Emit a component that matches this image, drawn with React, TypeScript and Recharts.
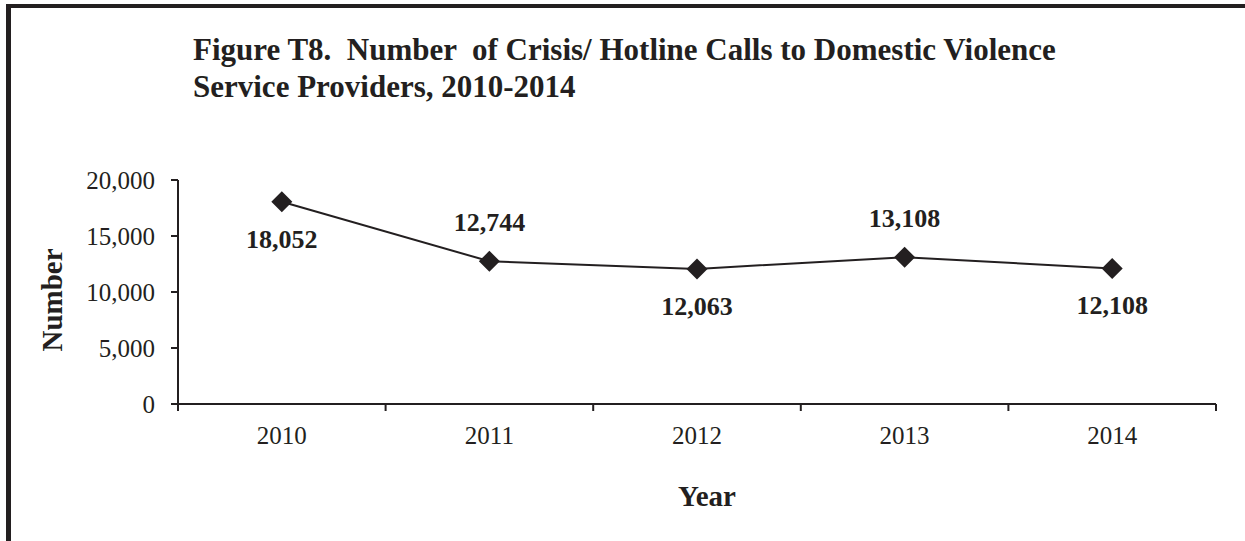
import { LineChart, Line, XAxis, YAxis, LabelList, Label } from "recharts";

const years = [2010, 2011, 2012, 2013, 2014];
const calls = [18052, 12744, 12063, 13108, 12108];
// where each value label sits relative to its marker
const labelSide = ["below", "above", "below", "above", "below"];
const yTicks = [0, 5000, 10000, 15000, 20000];
const yearEdges = [2009.5, 2010.5, 2011.5, 2012.5, 2013.5, 2014.5];

const data = years.map((year, i) => ({ year, calls: calls[i], side: labelSide[i] }));

const INK = "#231f20";
const SERIF = "'Liberation Serif', 'Times New Roman', serif";

function Diamond({ cx, cy }: { cx?: number; cy?: number }) {
  if (cx == null || cy == null) return null;
  const r = 10.5;
  return <polygon points={`${cx},${cy - r} ${cx + r},${cy} ${cx},${cy + r} ${cx - r},${cy}`} fill={INK} />;
}

function ValueLabel(props: any) {
  const { x, y, value, index } = props;
  const below = labelSide[index] === "below";
  return (
    <text
      x={x}
      y={below ? y + 46 : y - 30}
      textAnchor="middle"
      fontFamily={SERIF}
      fontWeight={700}
      fontSize={26}
      fill={INK}
    >
      {Number(value).toLocaleString("en-US")}
    </text>
  );
}

export default function App() {
  return (
    <div style={{ position: "absolute", left: 0, top: 0, width: 1245, height: 541, background: "#fff", fontFamily: SERIF, color: INK }}>
      <div style={{ position: "absolute", left: 6, top: 4, width: 1236, height: 560, borderTop: `4px solid ${INK}`, borderLeft: `5px solid ${INK}`, borderRight: `2px solid ${INK}` }} />
      <div style={{ position: "absolute", left: 193, top: 31, fontSize: 31, lineHeight: "37px", fontWeight: 700, whiteSpace: "pre" }}>
        {"Figure T8.  Number  of Crisis/ Hotline Calls to Domestic Violence\nService Providers, 2010-2014"}
      </div>
      <div style={{ position: "absolute", left: 0, top: 0 }}>
        <LineChart width={1245} height={541} data={data} margin={{ top: 180, right: 29, bottom: 96, left: 0 }}>
          <XAxis
            xAxisId="edges"
            type="number"
            dataKey="year"
            domain={[2009.5, 2014.5]}
            ticks={yearEdges}
            tickFormatter={() => ""}
            tickSize={7}
            height={1}
            axisLine={{ stroke: INK, strokeWidth: 2 }}
            tickLine={{ stroke: INK, strokeWidth: 2 }}
          />
          <XAxis
            xAxisId="labels"
            type="number"
            dataKey="year"
            domain={[2009.5, 2014.5]}
            ticks={years}
            axisLine={false}
            tickLine={false}
            tickSize={0}
            tickMargin={21}
            height={40}
            tick={{ fill: INK, fontSize: 25, fontFamily: SERIF }}
          >
            <Label value="Year" position="bottom" offset={40} dx={10} fill={INK} fontSize={29} fontWeight={700} fontFamily={SERIF} />
          </XAxis>
          <YAxis
            type="number"
            domain={[0, 20000]}
            ticks={yTicks}
            width={178}
            tickSize={7}
            tickMargin={16}
            tickFormatter={(v: number) => v.toLocaleString("en-US")}
            tick={{ fill: INK, fontSize: 25, fontFamily: SERIF }}
            axisLine={{ stroke: INK, strokeWidth: 2 }}
            tickLine={{ stroke: INK, strokeWidth: 2 }}
          >
            <Label
              content={({ viewBox }: any) => {
                const cx = viewBox.x + 52;
                const cy = viewBox.y + viewBox.height / 2 + 8;
                return (
                  <text x={cx} y={cy} transform={`rotate(-90 ${cx} ${cy})`} textAnchor="middle" dominantBaseline="central" fill={INK} fontSize={29} fontWeight={700} fontFamily={SERIF}>
                    Number
                  </text>
                );
              }}
            />
          </YAxis>
          <Line
            xAxisId="labels"
            dataKey="calls"
            stroke={INK}
            strokeWidth={2}
            dot={<Diamond />}
            activeDot={false}
            isAnimationActive={false}
          >
            <LabelList dataKey="calls" content={<ValueLabel />} />
          </Line>
        </LineChart>
      </div>
    </div>
  );
}
